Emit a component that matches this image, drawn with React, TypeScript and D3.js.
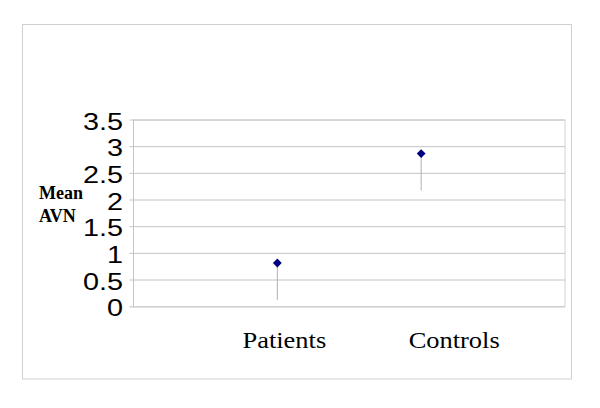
import React from "react";
import * as d3 from "d3";

const categories = ["Patients", "Controls"];
const means = [0.82, 2.87];
const lowerBounds = [0.13, 2.18];
const yTicks = [0, 0.5, 1, 1.5, 2, 2.5, 3, 3.5];
const yTickLabels = ["0", "0.5", "1", "1.5", "2", "2.5", "3", "3.5"];
const yTitle = ["Mean", "AVN"];

const W = 600;
const H = 408;
const plotLeft = 133.5;
const plotRight = 565;
const plotTop = 120;
const plotBottom = 306.7;
const labelOffsets = [7, 33];
const SANS = "'Liberation Sans', Arial, sans-serif";
const SERIF = "'Liberation Serif', 'Times New Roman', serif";

export default function App() {
  const x = d3.scaleLinear().domain([0, 3]).range([plotLeft, plotRight]);
  const y = d3.scaleLinear().domain([0, 3.5]).range([plotBottom, plotTop]);
  const diamond = d3.symbol().type(d3.symbolDiamond2).size(50)() as string;

  return (
    <svg
      width={W}
      height={H}
      style={{ position: "absolute", left: 0, top: 0, background: "#fff" }}
    >
      <rect x={22.5} y={24.5} width={549} height={354.5} fill="#fff" stroke="#d0d0d0" strokeWidth={1} />
      <rect
        x={plotLeft}
        y={plotTop}
        width={plotRight - plotLeft}
        height={plotBottom - plotTop}
        fill="none"
        stroke="#d4d4d4"
        strokeWidth={1}
      />
      {yTicks.map((t, i) => (
        <g key={i}>
          <line
            x1={plotLeft - 4}
            x2={plotRight}
            y1={y(t)}
            y2={y(t)}
            stroke={t === 0 ? "#cfcfcf" : "#c4c4c4"}
            strokeWidth={t === 0 ? 1.5 : 1}
          />
          <text
            transform={`translate(123,${y(t) + 9.5}) scale(1.2,1)`}
            textAnchor="end"
            fontFamily={SANS}
            style={{ fontFamily: SANS, fontSize: "24px" }}
            fill="#000"
          >
            {yTickLabels[i]}
          </text>
        </g>
      ))}
      <line x1={plotLeft} x2={plotLeft} y1={plotTop} y2={plotBottom} stroke="#c4c4c4" />
      {yTitle.map((s, i) => (
        <text
          key={s}
          x={39}
          y={199.3 + i * 22.3}
          fontFamily={SERIF}
          style={{ fontFamily: SERIF, fontWeight: "bold", fontSize: "18px" }}
          fill="#000"
        >
          {s}
        </text>
      ))}
      {categories.map((c, i) => (
        <g key={c}>
          <line
            x1={x(i + 1)}
            x2={x(i + 1)}
            y1={y(means[i])}
            y2={y(lowerBounds[i])}
            stroke="#b0b0b0"
            strokeWidth={1}
          />
          <path d={diamond} transform={`translate(${x(i + 1)},${y(means[i])})`} fill="#000080" />
          <text
            transform={`translate(${x(i + 1) + labelOffsets[i]},348) scale(1.15,1)`}
            textAnchor="middle"
            fontFamily={SERIF}
            style={{ fontFamily: SERIF, fontSize: "23px" }}
            fill="#000"
          >
            {c}
          </text>
        </g>
      ))}
    </svg>
  );
}
